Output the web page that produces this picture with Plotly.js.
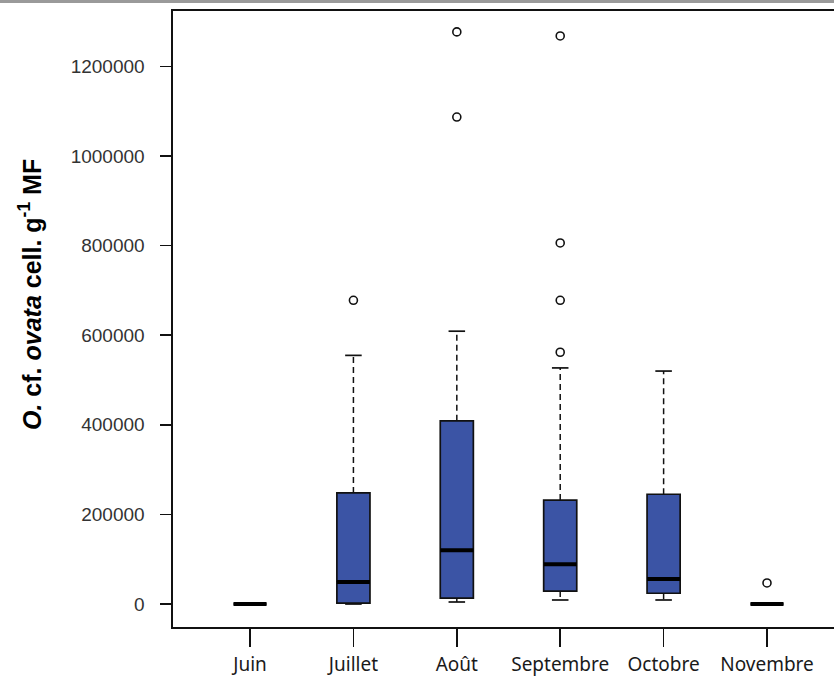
<!DOCTYPE html>
<html>
<head>
<meta charset="utf-8">
<script src="https://cdn.plot.ly/plotly-3.0.1.min.js"></script>
<style>
  html, body { margin: 0; padding: 0; background: #fff; }
  #chart { width: 834px; height: 682px; }
</style>
</head>
<body>
<div id="chart"></div>
<script>
// ---- Data ----
const months = ['Juin', 'Juillet', 'Août', 'Septembre', 'Octobre', 'Novembre'];
const q1 = [0, 2000, 13000, 29000, 24000, 0];
const medians = [0, 49000, 120000, 89000, 56000, 0];
const q3 = [0, 248000, 409000, 232000, 245000, 0];
const lowerWhisker = [0, 0, 4500, 9000, 9000, 0];
const upperWhisker = [0, 555000, 609000, 527000, 520000, 0];
const outlierMonth = ['Juillet', 'Août', 'Août', 'Septembre', 'Septembre', 'Septembre', 'Septembre', 'Novembre'];
const outlierValue = [678000, 1087000, 1277000, 562000, 678000, 806000, 1268000, 47000];
const yTickVals = [0, 200000, 400000, 600000, 800000, 1000000, 1200000];

// ---- Styling ----
const boxColor = '#3B54A5';
const boxHalf = 0.16;
const capHalf = 0.08;
const pos = months.map((m, i) => i);

const traces = [];

// Box bodies
traces.push({
  type: 'box',
  x: pos,
  q1: q1,
  median: medians,
  q3: q3,
  lowerfence: q1,
  upperfence: q3,
  width: boxHalf * 2,
  fillcolor: boxColor,
  line: { color: '#111', width: 1.7 },
  hoverinfo: 'skip',
  showlegend: false
});

// Dashed whiskers & caps
const wx = [], wy = [], cx = [], cy = [];
months.forEach((m, i) => {
  if (upperWhisker[i] > q3[i]) {
    wx.push(i, i, null); wy.push(q3[i], upperWhisker[i], null);
    cx.push(i - capHalf, i + capHalf, null); cy.push(upperWhisker[i], upperWhisker[i], null);
  }
  if (lowerWhisker[i] < q1[i]) {
    wx.push(i, i, null); wy.push(q1[i], lowerWhisker[i], null);
    cx.push(i - capHalf, i + capHalf, null); cy.push(lowerWhisker[i], lowerWhisker[i], null);
  }
});
traces.push({
  type: 'scatter', mode: 'lines', x: wx, y: wy,
  line: { color: '#111', width: 1.5, dash: '6px,4px' },
  hoverinfo: 'skip', showlegend: false
});
traces.push({
  type: 'scatter', mode: 'lines', x: cx, y: cy,
  line: { color: '#111', width: 1.7 },
  hoverinfo: 'skip', showlegend: false
});

// Thick medians
const mx = [], my = [];
months.forEach((m, i) => {
  mx.push(i - boxHalf, i + boxHalf, null);
  my.push(medians[i], medians[i], null);
});
traces.push({
  type: 'scatter', mode: 'lines', x: mx, y: my,
  line: { color: '#000', width: 4 },
  hoverinfo: 'skip', showlegend: false
});

// Outliers
traces.push({
  type: 'scatter', mode: 'markers',
  x: outlierMonth.map(m => months.indexOf(m)),
  y: outlierValue,
  marker: { symbol: 'circle-open', size: 8, color: '#111', line: { width: 1.6, color: '#111' } },
  hoverinfo: 'skip', showlegend: false
});

const layout = {
  width: 834,
  height: 682,
  margin: { l: 173, r: 0, t: 11, b: 55 },
  paper_bgcolor: '#fff',
  plot_bgcolor: '#fff',
  showlegend: false,
  xaxis: {
    range: [-0.745, 5.648],
    tickmode: 'array',
    tickvals: pos,
    ticktext: months,
    showgrid: false,
    zeroline: false,
    showline: true,
    mirror: true,
    linecolor: '#111',
    linewidth: 1.6,
    ticks: 'outside',
    ticklen: 18,
    tickwidth: 1.5,
    tickcolor: '#111',
    ticklabelstandoff: 2,
    tickfont: { family: 'Noto Sans, Liberation Sans, sans-serif', size: 19, color: '#1a1a1a' }
  },
  yaxis: {
    range: [-51300, 1323700],
    tickmode: 'array',
    tickvals: yTickVals,
    tickformat: 'd',
    showgrid: false,
    zeroline: false,
    showline: true,
    linecolor: '#111',
    linewidth: 1.6,
    ticks: 'outside',
    ticklen: 11,
    tickwidth: 1.5,
    tickcolor: '#111',
    ticklabelstandoff: 12,
    tickfont: { family: 'Liberation Sans, Arial, sans-serif', size: 19, color: '#333' }
  },
  shapes: [
    {
      type: 'rect', xref: 'paper', yref: 'paper',
      x0: -173 / 661, x1: 1, y0: 1 + 8 / 616, y1: 1 + 11 / 616,
      fillcolor: '#9a9a9a', line: { width: 0 }
    }
  ],
  annotations: [
    {
      xref: 'paper', yref: 'paper',
      x: (30 - 173) / 661, y: (627 - 295) / 616,
      xanchor: 'center', yanchor: 'middle',
      textangle: -90,
      showarrow: false,
      text: '<b><i>O.</i> cf. <i>ovata</i> cell. g<sup>-1</sup> MF</b>',
      font: { family: 'Liberation Sans, Arial, sans-serif', size: 25, color: '#000' }
    }
  ]
};

Plotly.newPlot('chart', traces, layout, { displayModeBar: false, staticPlot: true });
</script>
</body>
</html>
